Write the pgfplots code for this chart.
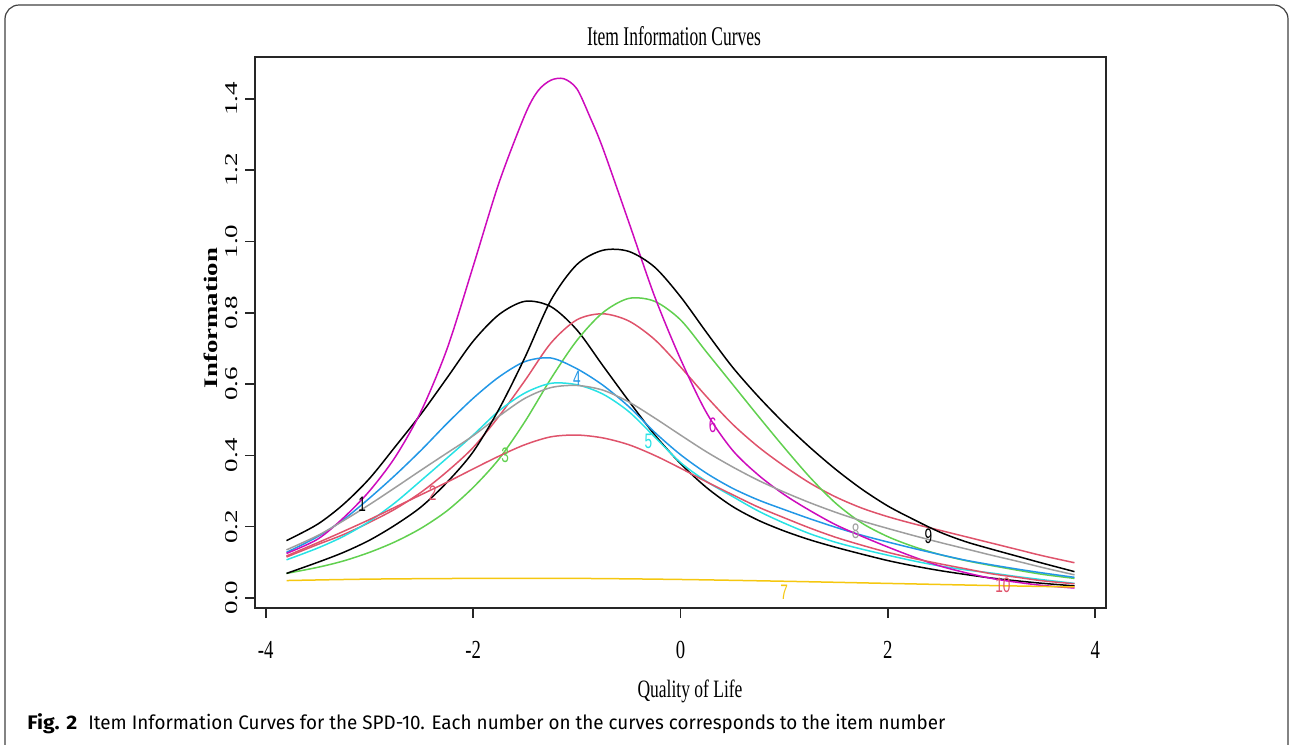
\documentclass[border=0pt]{standalone}
\usepackage{fontspec}
\setmainfont{Liberation Serif}
\newfontfamily\tickx[FakeStretch=0.72]{Liberation Serif}
\newfontfamily\ticky[FakeStretch=1.5]{Liberation Serif}
\newfontfamily\lab[FakeStretch=0.65]{Liberation Sans}
\newfontfamily\capfont{Fira Sans}
\usepackage{graphicx}
\usepackage{pgfplots}
\pgfplotsset{compat=1.18}

% R 4.x default palette
\definecolor{Rred}{HTML}{DF536B}
\definecolor{Rgreen}{HTML}{61D04F}
\definecolor{Rblue}{HTML}{2297E6}
\definecolor{Rcyan}{HTML}{28E2E5}
\definecolor{Rmag}{HTML}{CD0BBC}
\definecolor{Ryellow}{HTML}{F5C710}
\definecolor{Rgray}{HTML}{9E9E9E}

\begin{document}
\begin{tikzpicture}
\useasboundingbox (0,0) rectangle (646pt,-372.5pt);
% figure frame
\draw[black!75, line width=0.6pt, rounded corners=7pt] (2.5pt,-390pt) rectangle (644pt,-2.5pt);

\begin{axis}[
  at={(127.5pt,-304pt)}, anchor=south west,
  scale only axis, width=425.5pt, height=275.5pt,
  xmin=-4.104, xmax=4.104, ymin=-0.028, ymax=1.517,
  axis line style={black!85, line width=0.8pt},
  tick style={black!85, line width=0.8pt},
  tick align=outside, major tick length=5pt,
  xtick pos=left, ytick pos=left,
  xtick={-4,-2,0,2,4}, xticklabels={-4,-2,0,2,4},
  ytick={0,0.2,0.4,0.6,0.8,1.0,1.2,1.4},
  yticklabels={0.0,0.2,0.4,0.6,0.8,1.0,1.2,1.4},
  xticklabel style={font=\tickx\fontsize{13}{15}\selectfont, anchor=base, yshift=-20pt},
  yticklabel style={font=\ticky\fontsize{9}{10}\selectfont, rotate=90, anchor=base},
  yticklabel shift=4pt,
  every axis plot/.append style={line width=0.75pt, smooth},
]
% item 1
\addplot[black] coordinates {
(-3.8,0.161) (-3.5,0.207) (-3.25,0.263) (-3.0,0.335) (-2.75,0.425) (-2.5,0.517)
(-2.25,0.618) (-2.0,0.72) (-1.75,0.795) (-1.5,0.832) (-1.25,0.817) (-1.0,0.752)
(-0.75,0.652) (-0.5,0.553) (-0.25,0.458) (0,0.377) (0.25,0.31) (0.5,0.257)
(0.75,0.218) (1.0,0.188) (1.25,0.163) (1.5,0.142) (1.75,0.123) (2.0,0.105)
(2.25,0.09) (2.5,0.077) (2.75,0.066) (3.0,0.056) (3.25,0.048) (3.5,0.041) (3.8,0.034)};
% item 2
\addplot[Rred] coordinates {
(-3.8,0.115) (-3.5,0.15) (-3.25,0.178) (-3.0,0.212) (-2.75,0.25) (-2.5,0.297)
(-2.25,0.355) (-2.0,0.422) (-1.75,0.51) (-1.5,0.61) (-1.25,0.715) (-1.0,0.78)
(-0.75,0.797) (-0.5,0.777) (-0.25,0.725) (0,0.648) (0.25,0.565) (0.5,0.488)
(0.75,0.424) (1.0,0.37) (1.25,0.322) (1.5,0.283) (1.75,0.252) (2.0,0.228)
(2.25,0.208) (2.5,0.19) (2.75,0.172) (3.0,0.154) (3.25,0.136) (3.5,0.118) (3.8,0.099)};
% item 3
\addplot[Rgreen] coordinates {
(-3.8,0.069) (-3.5,0.086) (-3.25,0.104) (-3.0,0.128) (-2.75,0.158) (-2.5,0.196)
(-2.25,0.245) (-2.0,0.31) (-1.75,0.39) (-1.5,0.495) (-1.25,0.615) (-1.0,0.722)
(-0.75,0.80) (-0.5,0.84) (-0.25,0.832) (0,0.78) (0.25,0.69) (0.5,0.60)
(0.75,0.51) (1.0,0.422) (1.25,0.338) (1.5,0.265) (1.75,0.21) (2.0,0.172)
(2.25,0.144) (2.5,0.122) (2.75,0.105) (3.0,0.091) (3.25,0.078) (3.5,0.066) (3.8,0.055)};
% item 4
\addplot[Rblue] coordinates {
(-3.8,0.128) (-3.5,0.172) (-3.25,0.22) (-3.0,0.28) (-2.75,0.345) (-2.5,0.415)
(-2.25,0.49) (-2.0,0.56) (-1.75,0.62) (-1.5,0.663) (-1.25,0.673) (-1.0,0.643)
(-0.75,0.597) (-0.5,0.537) (-0.25,0.465) (0,0.402) (0.25,0.35) (0.5,0.308)
(0.75,0.275) (1.0,0.248) (1.25,0.222) (1.5,0.198) (1.75,0.176) (2.0,0.157)
(2.25,0.139) (2.5,0.122) (2.75,0.106) (3.0,0.093) (3.25,0.081) (3.5,0.07) (3.8,0.058)};
% item 5
\addplot[Rcyan] coordinates {
(-3.8,0.107) (-3.5,0.14) (-3.25,0.173) (-3.0,0.215) (-2.75,0.268) (-2.5,0.33)
(-2.25,0.393) (-2.0,0.457) (-1.75,0.525) (-1.5,0.575) (-1.25,0.602) (-1.0,0.598)
(-0.75,0.572) (-0.5,0.523) (-0.25,0.452) (0,0.38) (0.25,0.327) (0.5,0.285)
(0.75,0.244) (1.0,0.21) (1.25,0.18) (1.5,0.156) (1.75,0.137) (2.0,0.12)
(2.25,0.104) (2.5,0.09) (2.75,0.079) (3.0,0.07) (3.25,0.06) (3.5,0.051) (3.8,0.041)};
% item 6
\addplot[Rmag] coordinates {
(-3.8,0.125) (-3.5,0.165) (-3.25,0.225) (-3.0,0.30) (-2.75,0.396) (-2.5,0.525)
(-2.25,0.70) (-2.0,0.93) (-1.75,1.165) (-1.5,1.355) (-1.375,1.422) (-1.25,1.452)
(-1.125,1.456) (-1.0,1.428) (-0.875,1.35) (-0.75,1.262) (-0.5,1.055) (-0.25,0.846)
(0,0.67) (0.25,0.52) (0.5,0.415) (0.75,0.345) (1.0,0.29) (1.25,0.245)
(1.5,0.205) (1.75,0.173) (2.0,0.143) (2.25,0.115) (2.5,0.09) (2.75,0.071)
(3.0,0.055) (3.25,0.044) (3.5,0.035) (3.8,0.028)};
% item 7
\addplot[Ryellow] coordinates {
(-3.8,0.049) (-3.0,0.053) (-2.0,0.055) (-1.0,0.055) (0,0.052)
(1.0,0.047) (2.0,0.041) (3.0,0.035) (3.8,0.031)};
% item 8
\addplot[Rgray] coordinates {
(-3.8,0.135) (-3.5,0.175) (-3.25,0.217) (-3.0,0.262) (-2.75,0.31) (-2.5,0.359)
(-2.25,0.407) (-2.0,0.455) (-1.75,0.51) (-1.5,0.56) (-1.25,0.59) (-1.0,0.596)
(-0.75,0.583) (-0.5,0.55) (-0.25,0.505) (0,0.457) (0.25,0.41) (0.5,0.368)
(0.75,0.33) (1.0,0.297) (1.25,0.267) (1.5,0.24) (1.75,0.216) (2.0,0.195)
(2.25,0.175) (2.5,0.156) (2.75,0.138) (3.0,0.12) (3.25,0.103) (3.5,0.085) (3.8,0.065)};
% item 9
\addplot[black] coordinates {
(-3.8,0.069) (-3.5,0.1) (-3.25,0.128) (-3.0,0.162) (-2.75,0.205) (-2.5,0.256)
(-2.25,0.325) (-2.0,0.41) (-1.75,0.53) (-1.5,0.675) (-1.25,0.835) (-1.0,0.935)
(-0.75,0.975) (-0.5,0.972) (-0.25,0.928) (0,0.845) (0.25,0.745) (0.5,0.648)
(0.75,0.565) (1.0,0.49) (1.25,0.422) (1.5,0.36) (1.75,0.305) (2.0,0.258)
(2.25,0.22) (2.5,0.185) (2.75,0.158) (3.0,0.137) (3.25,0.117) (3.5,0.097) (3.8,0.074)};
% item 10
\addplot[Rred] coordinates {
(-3.8,0.118) (-3.5,0.155) (-3.25,0.187) (-3.0,0.22) (-2.75,0.255) (-2.5,0.29)
(-2.25,0.325) (-2.0,0.362) (-1.75,0.398) (-1.5,0.43) (-1.25,0.452) (-1.0,0.457)
(-0.75,0.449) (-0.5,0.43) (-0.25,0.40) (0,0.364) (0.25,0.326) (0.5,0.29)
(0.75,0.255) (1.0,0.225) (1.25,0.196) (1.5,0.17) (1.75,0.148) (2.0,0.128)
(2.25,0.111) (2.5,0.096) (2.75,0.082) (3.0,0.068) (3.25,0.058) (3.5,0.048) (3.8,0.04)};

% item numbers on the curves
\begin{scope}[every node/.style={font=\lab\fontsize{10.5}{12}\selectfont, inner sep=0pt}]
\node[text=black]   at (axis cs:-3.07,0.262) {1};
\node[text=Rred]    at (axis cs:-2.39,0.294) {2};
\node[text=Rgreen]  at (axis cs:-1.69,0.40)  {3};
\node[text=Rblue]   at (axis cs:-1.0,0.617)  {4};
\node[text=Rcyan]   at (axis cs:-0.31,0.44)  {5};
\node[text=Rmag]    at (axis cs:0.31,0.485)  {6};
\node[text=Ryellow] at (axis cs:1.0,0.015)   {7};
\node[text=Rgray]   at (axis cs:1.69,0.186)  {8};
\node[text=black]   at (axis cs:2.39,0.174)  {9};
\node[text=Rred]    at (axis cs:3.11,0.036)  {10};
\end{scope}
\end{axis}

% titles and caption
\node[anchor=base, inner sep=0pt] at (337pt,-22.5pt)
  {\resizebox{87pt}{\height}{\fontsize{13.5}{15}\selectfont Item Information Curves}};
\node[anchor=base, inner sep=0pt] at (345pt,-348.5pt)
  {\resizebox{52.5pt}{\height}{\fontsize{12.5}{14}\selectfont Quality of Life}};
\node[anchor=base, rotate=90, inner sep=0pt] at (108.5pt,-159pt)
  {\resizebox{70pt}{\height}{\fontsize{9.6}{11}\selectfont\bfseries Information}};
\node[anchor=base west, inner sep=0pt] at (13.5pt,-364.5pt)
  {\resizebox{25pt}{\height}{\fontsize{9.8}{11}\selectfont\capfont\bfseries Fig. 2}};
\node[anchor=base west, inner sep=0pt] at (44pt,-364.5pt)
  {\resizebox{428.5pt}{\height}{\fontsize{9.8}{11}\selectfont\capfont Item Information Curves for the SPD-10. Each number on the curves corresponds to the item number}};
\end{tikzpicture}
\end{document}
